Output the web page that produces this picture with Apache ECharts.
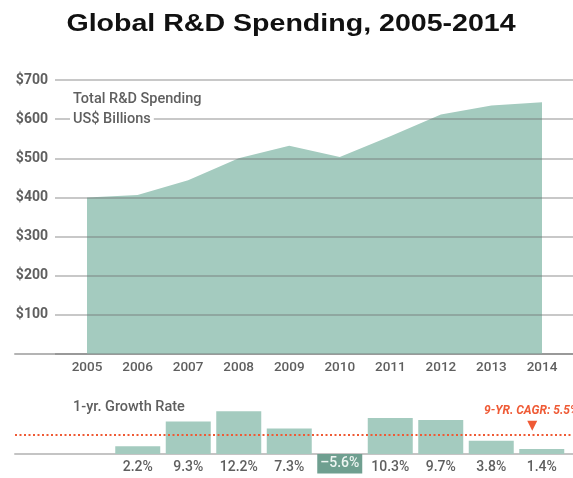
<!DOCTYPE html>
<html><head><meta charset="utf-8">
<script src="https://cdn.jsdelivr.net/npm/echarts@6/dist/echarts.min.js"></script>
<style>html,body{margin:0;padding:0;background:#fff}#c{width:573px;height:478px}</style>
</head><body><div id="c"></div>
<script>
const years = ['2005','2006','2007','2008','2009','2010','2011','2012','2013','2014'];
const spending = [400, 406, 444, 500, 532, 503, 556, 612, 635, 643];
const growth = [null, 2.2, 9.3, 12.2, 7.3, -5.6, 10.3, 9.7, 3.8, 1.4];
const yTicks = ['$0','$100','$200','$300','$400','$500','$600','$700'];
const cagr = 5.5;

const AREA = '#a4cbbf', DARK = '#6f9f90', TXT = '#5f5f5f', RED = '#ef5a35';
const FONT = 'Roboto';
const chart = echarts.init(document.getElementById('c'));
chart.setOption({
  animation: false,
  grid: [
    { left: 55, right: 0, top: 80, bottom: 124 },   // gridlines + labels
    { left: 87, right: 31, top: 80, bottom: 124 },  // area
    { left: 15, right: 0, top: 80, bottom: 124 },   // top baseline
    { left: 62, right: 6, top: 405, bottom: 3 },    // bars
    { left: 15, right: 0, top: 405, bottom: 3 }     // bottom baseline + CAGR
  ],
  xAxis: [
    { gridIndex: 0, type: 'value', min: 0, max: 1, show: false },
    { gridIndex: 1, type: 'category', data: years, boundaryGap: false,
      axisLine: { show: false }, axisTick: { show: false },
      axisLabel: { color: TXT, fontFamily: FONT, fontSize: 13.5, fontWeight: 500, margin: 7, interval: 0 } },
    { gridIndex: 2, type: 'value', min: 0, max: 1, axisLabel: { show: false }, axisTick: { show: false },
      splitLine: { show: false }, axisLine: { lineStyle: { color: '#b4b4b4', width: 2 } } },
    { gridIndex: 3, type: 'category', data: years, show: false },
    { gridIndex: 4, type: 'value', min: 0, max: 1, axisLabel: { show: false }, axisTick: { show: false },
      splitLine: { show: false }, axisLine: { onZero: true, lineStyle: { color: '#c4c4c4', width: 2 } } }
  ],
  yAxis: [
    { gridIndex: 0, type: 'value', min: 0, max: 700, interval: 100, z: 5,
      axisLine: { show: false }, axisTick: { show: false },
      axisLabel: { color: TXT, fontFamily: FONT, fontSize: 14, fontWeight: 'bold', margin: 7,
        formatter: (v) => v === 0 ? '' : yTicks[v / 100] },
      splitLine: { lineStyle: { color: 'rgba(110,110,110,0.5)', width: 1.6 } } },
    { gridIndex: 1, type: 'value', min: 0, max: 700, show: false },
    { gridIndex: 2, type: 'value', min: 0, max: 700, show: false },
    { gridIndex: 3, type: 'value', min: -6, max: 14, show: false },
    { gridIndex: 4, type: 'value', min: -6, max: 14, show: false }
  ],
  series: [
    { type: 'line', xAxisIndex: 1, yAxisIndex: 1, data: spending, symbol: 'none', z: 2,
      lineStyle: { width: 0 }, areaStyle: { color: AREA, opacity: 1 } },
    { type: 'bar', xAxisIndex: 3, yAxisIndex: 3, barWidth: 45, z: 3,
      data: growth.map(v => v === null ? null : (v < 0 ? {
        value: v, itemStyle: { color: DARK },
        label: { position: 'inside', color: '#eef5f2' } } : v)),
      itemStyle: { color: AREA },
      label: { show: true, position: 'bottom', distance: 6, color: TXT, fontFamily: FONT,
        fontSize: 14, fontWeight: 500,
        formatter: (p) => (p.value < 0 ? '\u2013' + Math.abs(p.value).toFixed(1) : p.value.toFixed(1)) + '%' } },
    { type: 'line', xAxisIndex: 4, yAxisIndex: 4, data: [], z: 4,
      markLine: { silent: true, symbol: 'none', label: { show: false },
        lineStyle: { color: RED, type: [2, 2.5], width: 2 },
        data: [{ yAxis: cagr }] },
      markPoint: { silent: true, symbol: 'triangle', symbolRotate: 180, symbolSize: [10, 10],
        symbolOffset: [0, -9], itemStyle: { color: RED }, label: { show: false },
        data: [{ coord: [0.927, cagr] }] } }
  ],
  graphic: [
    { type: 'text', x: 291, y: 24, scaleX: 1.19, z: 10, style: { text: 'Global R&D Spending, 2005-2014',
      fill: '#111', font: 'bold 24px "Liberation Sans", Arial', align: 'center', verticalAlign: 'middle' } },
    { type: 'text', left: 70, top: 92, z: 10, style: { text: 'Total R&D Spending', fill: TXT,
      font: '500 14.5px Roboto', backgroundColor: '#fff', padding: [0, 3] } },
    { type: 'text', left: 70, top: 111, z: 10, style: { text: 'US$ Billions', fill: TXT,
      font: '500 14.5px Roboto', backgroundColor: '#fff', padding: [1, 3] } },
    { type: 'text', left: 73, top: 400, z: 10, style: { text: '1-yr. Growth Rate', fill: TXT,
      font: '500 14.5px Roboto' } },
    { type: 'text', left: 484, top: 405, z: 10, style: { text: '9-YR. CAGR: ' + cagr + '%', fill: RED,
      font: 'italic bold 12px Roboto' } }
  ]
});
</script></body></html>
